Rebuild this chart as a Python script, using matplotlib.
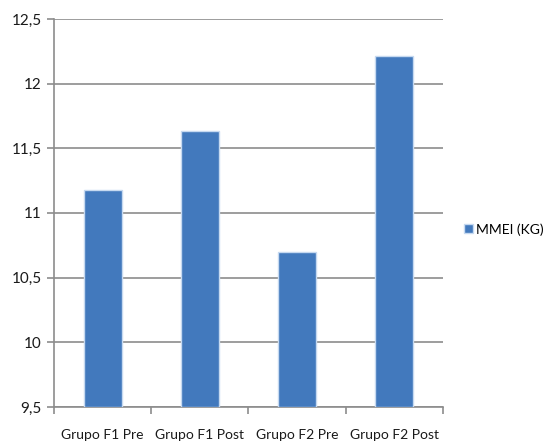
import matplotlib
matplotlib.use("Agg")
import matplotlib.pyplot as plt
import numpy as np
from matplotlib.ticker import FuncFormatter

plt.rcParams['font.family'] = ['Lato', 'DejaVu Sans']

categories = ['Grupo F1 Pre', 'Grupo F1 Post', 'Grupo F2 Pre', 'Grupo F2 Post']
mmei = [11.18, 11.63, 10.70, 12.21]
series_name = 'MMEI (KG)'

fig = plt.figure(figsize=(5.53, 4.42), dpi=100)
ax = fig.add_axes([0.0976, 0.0792, 0.7034, 0.878])

x = np.arange(len(categories))
ax.bar(x, np.array(mmei) - 9.5, bottom=9.5, width=0.39, color='#4279bd',
       edgecolor='#c6d9f0', linewidth=1.0, label=series_name, zorder=3)

ax.set_xlim(-0.5, len(categories) - 0.5)
ax.set_ylim(9.5, 12.5)
ax.set_yticks(np.arange(9.5, 12.51, 0.5))
ax.yaxis.set_major_formatter(FuncFormatter(lambda v, p: ('%g' % v).replace('.', ',')))
ax.grid(axis='y', color='#8c8c8c', linewidth=1.2, zorder=0)

# category labels centered, tick marks on boundaries
ax.set_xticks(x)
ax.set_xticklabels(categories)
ax.tick_params(axis='x', length=0, pad=16, labelsize=10, labelcolor='#1a1a1a')
ax.set_xticks(np.arange(-0.5, len(categories)), minor=True)
ax.tick_params(axis='x', which='minor', length=5, color='#8c8c8c', width=1.2)
ax.tick_params(axis='y', length=5, color='#8c8c8c', width=1.2, labelsize=11,
               labelcolor='#1a1a1a', pad=4)

for s in ['top', 'right']:
    ax.spines[s].set_visible(False)
for s in ['left', 'bottom']:
    ax.spines[s].set_color('#8c8c8c')
    ax.spines[s].set_linewidth(1.2)

ax.legend(loc='center left', bbox_to_anchor=(1.055, 0.458), frameon=False,
          fontsize=10, handlelength=0.6, handleheight=0.6, handletextpad=0.25,
          borderpad=0, borderaxespad=0)

fig.savefig('out.png', dpi=100, facecolor='white')
